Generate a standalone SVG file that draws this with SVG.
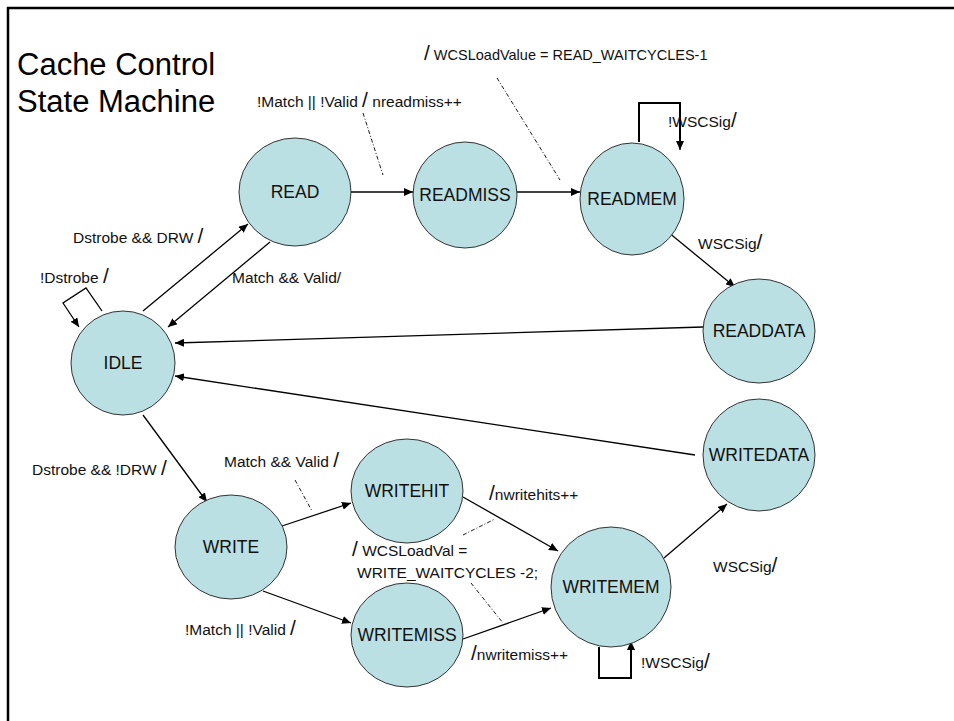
<svg xmlns="http://www.w3.org/2000/svg" width="954" height="721" viewBox="0 0 954 721">
<defs>
<marker id="arr" markerWidth="10" markerHeight="8" refX="9" refY="4" orient="auto" markerUnits="userSpaceOnUse">
<path d="M0,0 L9,4 L0,8 z" fill="#000"/>
</marker>
<style>
.node ellipse{fill:#bbe0e3;stroke:#333;stroke-width:1}
.nl{font-family:"Liberation Sans",Arial,sans-serif;font-size:17.5px;text-anchor:middle;fill:#111}
.lb{font-family:"Liberation Sans",Arial,sans-serif;font-size:15.5px;fill:#111}
.sm{font-size:14.5px}
.sl{font-size:21px}
.c{fill:none;stroke:#000;stroke-width:1.3}
.a{marker-end:url(#arr)}
.lp{fill:none;stroke:#000;stroke-width:2}
.d{fill:none;stroke:#000;stroke-width:0.9;stroke-dasharray:4 2 1 2}
.t{font-family:"Liberation Sans",Arial,sans-serif;font-size:31px;fill:#000}
</style>
</defs>
<rect width="954" height="721" fill="#fff"/>
<path d="M8,721 L8,8 L954,8" fill="none" stroke="#000" stroke-width="2.5"/>
<text class="t" x="17" y="75">Cache Control</text>
<text class="t" x="17" y="112">State Machine</text>

<g id="connectors">
<line class="c a" x1="351" y1="192" x2="413" y2="192"/>
<line class="c a" x1="517" y1="192" x2="580" y2="192"/>
<polyline class="lp" points="639,142 639,103 680,103 680,142"/>
<line class="c a" x1="680" y1="140" x2="680" y2="150"/>
<line class="c a" x1="668" y1="232" x2="735" y2="287"/>
<line class="c a" x1="703" y1="327" x2="175" y2="343"/>
<line class="c a" x1="695" y1="455" x2="175" y2="376"/>
<line class="c a" x1="143" y1="311" x2="248" y2="224"/>
<line class="c a" x1="270" y1="242" x2="168" y2="327"/>
<polyline class="c a" points="102,311 86,288 63,303 79,327"/>
<line class="c a" x1="143" y1="415" x2="207" y2="502"/>
<line class="c a" x1="279" y1="527" x2="351" y2="503"/>
<line class="c a" x1="263" y1="591" x2="351" y2="623"/>
<line class="c a" x1="463" y1="497" x2="558" y2="551"/>
<line class="c a" x1="463" y1="639" x2="551" y2="608"/>
<line class="c a" x1="664" y1="558" x2="727" y2="504"/>
<polyline class="lp" points="599,647 599,678 631,678 631,650"/>
<line class="c a" x1="631" y1="652" x2="631" y2="641"/>
<line class="d" x1="363" y1="113" x2="383" y2="175"/>
<line class="d" x1="497" y1="78" x2="560" y2="180"/>
<line class="d" x1="295" y1="480" x2="312" y2="511"/>
<line class="d" x1="463" y1="535" x2="495" y2="519"/>
<line class="d" x1="471" y1="583" x2="503" y2="623"/>
</g>

<g id="READ" class="node"><ellipse cx="295" cy="192" rx="56" ry="54"/><text class="nl" x="295" y="198">READ</text></g>
<g id="READMISS" class="node"><ellipse cx="465" cy="195" rx="52" ry="53"/><text class="nl" x="465" y="201">READMISS</text></g>
<g id="READMEM" class="node"><ellipse cx="632" cy="199" rx="52" ry="56"/><text class="nl" x="632" y="205">READMEM</text></g>
<g id="READDATA" class="node"><ellipse cx="759" cy="331" rx="56" ry="52"/><text class="nl" x="759" y="337">READDATA</text></g>
<g id="WRITEDATA" class="node"><ellipse cx="759" cy="455" rx="56" ry="56"/><text class="nl" x="759" y="461">WRITEDATA</text></g>
<g id="IDLE" class="node"><ellipse cx="123" cy="363" rx="52" ry="52"/><text class="nl" x="123" y="369">IDLE</text></g>
<g id="WRITE" class="node"><ellipse cx="231" cy="547" rx="56" ry="52"/><text class="nl" x="231" y="553">WRITE</text></g>
<g id="WRITEHIT" class="node"><ellipse cx="407" cy="491" rx="56" ry="52"/><text class="nl" x="407" y="497">WRITEHIT</text></g>
<g id="WRITEMISS" class="node"><ellipse cx="407" cy="635" rx="56" ry="52"/><text class="nl" x="407" y="641">WRITEMISS</text></g>
<g id="WRITEMEM" class="node"><ellipse cx="611" cy="587" rx="60" ry="60"/><text class="nl" x="611" y="593">WRITEMEM</text></g>

<g id="labels">
<text class="lb sm" x="424" y="60"><tspan class="sl">/</tspan> WCSLoadValue = READ_WAITCYCLES-1</text>
<text class="lb" x="257" y="107">!Match || !Valid <tspan class="sl">/</tspan> nreadmiss++</text>
<text class="lb" x="668" y="127">!WSCSig<tspan class="sl">/</tspan></text>
<text class="lb" x="698" y="249">WSCSig<tspan class="sl">/</tspan></text>
<text class="lb" x="73" y="243">Dstrobe &amp;&amp; DRW <tspan class="sl">/</tspan></text>
<text class="lb" x="232" y="283">Match &amp;&amp; Valid/</text>
<text class="lb" x="40" y="283">!Dstrobe <tspan class="sl">/</tspan></text>
<text class="lb" x="32" y="475">Dstrobe &amp;&amp; !DRW <tspan class="sl">/</tspan></text>
<text class="lb" x="224" y="467">Match &amp;&amp; Valid <tspan class="sl">/</tspan></text>
<text class="lb" x="185" y="635">!Match || !Valid <tspan class="sl">/</tspan></text>
<text class="lb" x="352" y="556"><tspan class="sl">/</tspan> WCSLoadVal =</text>
<text class="lb" x="357" y="578">WRITE_WAITCYCLES -2;</text>
<text class="lb" x="489" y="500"><tspan class="sl">/</tspan>nwritehits++</text>
<text class="lb" x="471" y="660"><tspan class="sl">/</tspan>nwritemiss++</text>
<text class="lb" x="713" y="572">WSCSig<tspan class="sl">/</tspan></text>
<text class="lb" x="641" y="668">!WSCSig<tspan class="sl">/</tspan></text>
</g>
</svg>
